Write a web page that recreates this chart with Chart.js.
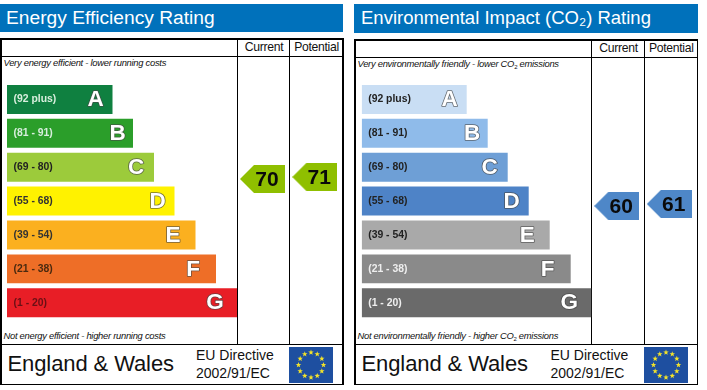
<!DOCTYPE html>
<html>
<head>
<meta charset="utf-8">
<script src="https://cdn.jsdelivr.net/npm/chart.js@4"></script>
<style>
html,body{margin:0;padding:0;background:#fff;width:707px;height:390px;overflow:hidden}
body{font-family:"Liberation Sans",Arial,sans-serif;color:#111;position:relative}
canvas{position:absolute;top:0}
.a{position:absolute;white-space:nowrap}
.band{background:#0071BB}
.title{color:#fff;line-height:28px}
.line{background:#000}
.small{font-style:italic;font-size:9.4px;line-height:12px;letter-spacing:-.27px;color:#111}
.small sub{font-size:6px;line-height:0;vertical-align:-2px;font-style:normal}
.col{font-size:12.2px;line-height:14px;letter-spacing:-.3px;text-align:center}
</style>
</head>
<body>
<div id="chrome"></div>
<canvas id="left" width="350" height="390" style="left:0;width:350px;height:390px"></canvas>
<canvas id="right" width="357" height="390" style="left:350px;width:357px;height:390px"></canvas>
<script>
const bandLabels = ['(92 plus)', '(81 - 91)', '(69 - 80)', '(55 - 68)', '(39 - 54)', '(21 - 38)', '(1 - 20)'];
const bandLetters = ['A', 'B', 'C', 'D', 'E', 'F', 'G'];

const energyLengths = [105.5, 126, 147, 167.5, 188.5, 209, 230];
const energyColors = ['#0F8040', '#2B9E2A', '#9CCB3B', '#FFF200', '#FBB01F', '#EE6E27', '#E81E26'];
const energyLabelColors = ['#D8EEDD', '#D8EEDD', '#222', '#333', '#333', '#4a2a10', '#6a1015'];
const energyCurrent = 70;
const energyPotential = 71;
const energyCurrentX = 255.5;
const energyPotentialX = 307.8;

const co2Lengths = [105, 126, 146, 167, 188, 209, 229.5];
const co2Colors = ['#C9DEF4', '#8FBBEA', '#6E9FD6', '#4E83C7', '#A9A9A9', '#8A8A8A', '#6A6A6A'];
const co2LabelColors = ['#222', '#222', '#222', '#222', '#222', '#eee', '#eee'];
const co2Current = 60;
const co2Potential = 61;
const co2CurrentX = 255;
const co2PotentialX = 307.6;

const letterInsets = [17, 15.5, 18, 17, 22.5, 23, 22];

function arrowCanvas(color) {
  const c = document.createElement('canvas');
  c.width = 45; c.height = 28;
  const g = c.getContext('2d');
  g.fillStyle = color;
  g.beginPath();
  g.moveTo(0, 14); g.lineTo(14, 0); g.lineTo(45, 0); g.lineTo(45, 28); g.lineTo(14, 28);
  g.closePath(); g.fill();
  return c;
}

const overlay = {
  id: 'overlay',
  afterDatasetsDraw(chart) {
    const ctx = chart.ctx;
    ctx.save();
    ctx.textAlign = 'center';
    ctx.textBaseline = 'middle';
    ctx.font = 'bold 22.5px "Liberation Sans", Arial, sans-serif';
    ctx.lineJoin = 'round';
    chart.getDatasetMeta(0).data.forEach((bar, i) => {
      const x = bar.x - letterInsets[i], y = bar.y + 0.5;
      ctx.lineWidth = 1.6;
      ctx.strokeStyle = 'rgba(70,70,70,.75)';
      ctx.strokeText(bandLetters[i], x, y);
      ctx.fillStyle = '#fff';
      ctx.fillText(bandLetters[i], x, y);
    });
    ctx.font = 'bold 21px "Liberation Sans", Arial, sans-serif';
    ctx.fillStyle = '#0a0a0a';
    [1, 2].forEach(d => {
      const p = chart.getDatasetMeta(d).data[0];
      ctx.fillText(String(chart.data.datasets[d].data[0].y), p.x + 4.5, p.y + 1);
    });
    ctx.restore();
  }
};

function makeChart(id, lengths, colors, labelColors, current, potential, currentX, potentialX, arrowColor, padLeft, padRight, rMin, rMax) {
  const arrow = arrowCanvas(arrowColor);
  new Chart(document.getElementById(id), {
    data: {
      labels: bandLabels,
      datasets: [
        { type: 'bar', data: lengths, backgroundColor: colors, borderWidth: 0, barPercentage: 0.855, categoryPercentage: 1, grouped: false, xAxisID: 'x', yAxisID: 'y', order: 2 },
        { type: 'scatter', data: [{ x: currentX, y: current }], pointStyle: arrow, xAxisID: 'x', yAxisID: 'yRating', order: 1 },
        { type: 'scatter', data: [{ x: potentialX, y: potential }], pointStyle: arrow, xAxisID: 'x', yAxisID: 'yRating', order: 1 }
      ]
    },
    options: {
      indexAxis: 'y',
      responsive: false,
      animation: false,
      events: [],
      layout: { padding: { left: padLeft, right: padRight, top: 82.5, bottom: 70.3 } },
      plugins: { legend: { display: false }, tooltip: { enabled: false }, title: { display: false } },
      scales: {
        x: { type: 'linear', axis: 'x', min: 0, max: 336, display: false },
        y: {
          type: 'category', axis: 'y', position: 'left', offset: true,
          afterFit(scale) { scale.width = 0; },
          grid: { display: false, drawTicks: false }, border: { display: false },
          ticks: {
            mirror: true, padding: 6.5, autoSkip: false, z: 1,
            color: c => labelColors[c.index],
            font: { family: '"Liberation Sans", Arial, sans-serif', size: 10.4, weight: 'bold' }
          }
        },
        yRating: { type: 'linear', axis: 'y', position: 'right', min: rMin, max: rMax, display: false }
      }
    },
    plugins: [overlay]
  });
}

function el(cls, x, y, w, h, html, style) {
  const d = document.createElement('div');
  d.className = 'a ' + cls;
  d.style.left = x + 'px'; d.style.top = y + 'px';
  if (w != null) d.style.width = w + 'px';
  if (h != null) d.style.height = h + 'px';
  if (html) d.innerHTML = html;
  if (style) Object.assign(d.style, style);
  document.getElementById('chrome').appendChild(d);
  return d;
}

function flag(x, y) {
  let stars = '';
  for (let i = 0; i < 12; i++) {
    const t = i * Math.PI / 6;
    const cx = 22 + 12.5 * Math.sin(t), cy = 18 - 12.5 * Math.cos(t);
    let pts = [];
    for (let k = 0; k < 10; k++) {
      const r = k % 2 ? 1.2 : 2.9, q = k * Math.PI / 5;
      pts.push((cx + r * Math.sin(q)).toFixed(2) + ',' + (cy - r * Math.cos(q)).toFixed(2));
    }
    stars += '<polygon fill="#F4E32A" points="' + pts.join(' ') + '"/>';
  }
  el('', x, y, 44, 36, '<svg width="44" height="36" style="display:block"><rect width="44" height="36" fill="#1E4FA0"/>' + stars + '</svg>');
}

function panel(o) {
  el('band', o.bx, 4, o.bw, o.bh);
  el('title', o.tx, 4, null, null, o.title, { fontSize: o.ts + 'px', letterSpacing: o.tls + 'px' });
  const L = o.l, R = o.r, T = o.t;
  el('line', L, T, 1.5, 384.5 - T);
  el('line', R, T, 1.5, 384.5 - T);
  el('line', L, T, R - L + 1.5, 1.5);
  el('line', L, 383.5, R - L + 1.5, 1.5);
  el('line', L, o.h1, R - L + 1.5, 1);
  el('line', L, 344, R - L + 1.5, 1.2);
  el('line', o.c1, T, 1.2, 344 - T);
  el('line', o.c2, T, 1.2, 344 - T);
  el('col', o.c1 + 1, o.h1 - 16, o.c2 - o.c1, 14, 'Current');
  el('col', o.c2 + 1, o.h1 - 16, R - o.c2, 14, 'Potential');
  el('small', L + 3.5, o.h1 + 1, null, null, o.top);
  el('small', L + 3.5, 330, null, null, o.bottom);
  el('', L + 7.5, 351, null, null, 'England &amp; Wales', { fontSize: '22px', lineHeight: '26px', letterSpacing: '-.1px' });
  el('', o.eu, 347, null, null, 'EU Directive', { fontSize: '14px', lineHeight: '16px' });
  el('', o.eu, 365, null, null, '2002/91/EC', { fontSize: '14px', lineHeight: '16px' });
  flag(o.fx, 347);
}

panel({ bx: 0, bw: 343, bh: 28, tx: 6, ts: 19.2, tls: 0, title: 'Energy Efficiency Rating',
  l: 0, r: 342, t: 38, h1: 56, c1: 237, c2: 289,
  top: 'Very energy efficient - lower running costs',
  bottom: 'Not energy efficient - higher running costs',
  eu: 196, fx: 289 });
panel({ bx: 354, bw: 344, bh: 29, tx: 361, ts: 18.5, tls: 0, title: 'Environmental Impact (CO₂) Rating',
  l: 354, r: 696.5, t: 39, h1: 57, c1: 591, c2: 644,
  top: 'Very environmentally friendly - lower CO<sub>2</sub> emissions',
  bottom: 'Not environmentally friendly - higher CO<sub>2</sub> emissions',
  eu: 550.5, fx: 644 });

makeChart('left', energyLengths, energyColors, energyLabelColors, energyCurrent, energyPotential, energyCurrentX, energyPotentialX, '#8FBF00', 7, 7, -0.35, 118.25);
makeChart('right', co2Lengths, co2Colors, co2LabelColors, co2Current, co2Potential, co2CurrentX, co2PotentialX, '#4E87C8', 11.7, 9.3, 3.15, 121.75);
</script>
</body>
</html>
